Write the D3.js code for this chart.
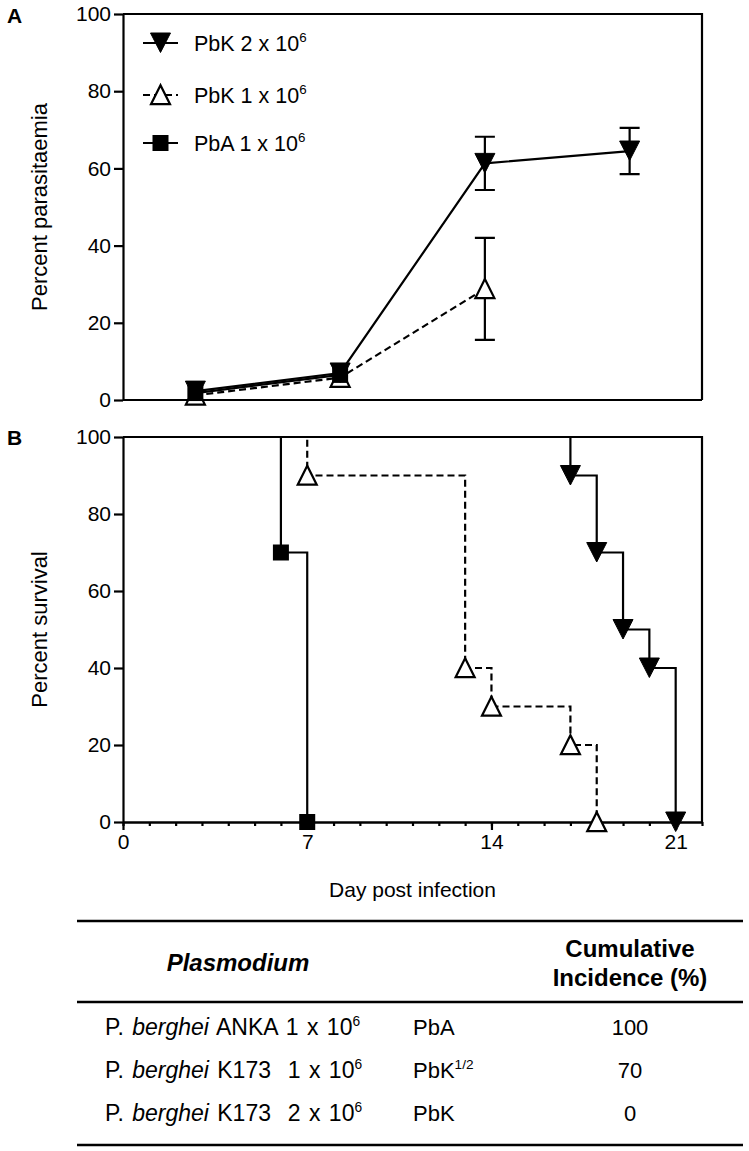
<!DOCTYPE html>
<html><head><meta charset="utf-8">
<script src="https://cdn.jsdelivr.net/npm/d3@7"></script>
<style>
html,body{margin:0;padding:0;background:#fff;}
svg text{font-family:"Liberation Sans",Arial,Helvetica,sans-serif;fill:#000;white-space:pre;}
</style></head><body>
<svg id="chart" width="749" height="1151"></svg>
<script>
// ---------- data ----------
const legendLabels = ["PbK 2 x 10", "PbK 1 x 10", "PbA 1 x 10"];
const legendExp = ["6", "6", "6"];

const parasitaemiaDays = [2.75, 8.25, 13.75, 19.25];
const pbk2Parasitaemia = [2.3, 7.0, 61.3, 64.5];
const pbk2Sem = [0, 0, 6.9, 6.0];
const pbk1Parasitaemia = [1.2, 5.8, 28.8];
const pbk1Sem = [0, 0, 13.2];
const pbaParasitaemia = [1.8, 6.5];
const pbaSem = [0, 0];

const pbk2SurvDays = [0, 17, 18, 19, 20, 21];
const pbk2Surv = [100, 90, 70, 50, 40, 0];
const pbk1SurvDays = [0, 7, 13, 14, 17, 18];
const pbk1Surv = [100, 90, 40, 30, 20, 0];
const pbaSurvDays = [0, 6, 7];
const pbaSurv = [100, 70, 0];

const yTicks = [0, 20, 40, 60, 80, 100];
const xMajorTicks = [0, 7, 14, 21];
const xMinorTicks = d3.range(0, 23);

const tableHeaders = ["Plasmodium", "Cumulative", "Incidence (%)"];
const tableStrain = ["ANKA 1 x 10", "K173  1 x 10", "K173  2 x 10"];
const tableStrainExp = ["6", "6", "6"];
const tableCode = ["PbA", "PbK", "PbK"];
const tableCodeSup = ["", "1/2", ""];
const tableIncidence = [100, 70, 0];

// ---------- layout ----------
const svg = d3.select("#chart");
const L = 123, R = 702;
const LW = 2.2;
const FS = 21;
const x = d3.scaleLinear().domain([0, 22]).range([L, R]);
const yA = d3.scaleLinear().domain([0, 100]).range([400, 14]);
const yB = d3.scaleLinear().domain([0, 100]).range([822, 437]);

function styleAxis(g) {
  g.select(".domain").attr("stroke", "#000").attr("stroke-width", LW);
  g.selectAll(".tick line").attr("stroke", "#000").attr("stroke-width", LW);
  g.selectAll(".tick text").style("font-size", FS + "px").attr("fill", "#000");
}

function marker(g, type, cx, cy) {
  if (type === "down") {
    g.append("path").attr("d", `M${cx-10},${cy-10}L${cx+10},${cy-10}L${cx},${cy+9.5}Z`)
      .attr("fill", "#000").attr("stroke", "#000").attr("stroke-width", 1);
  } else if (type === "up") {
    g.append("path").attr("d", `M${cx-9.5},${cy+9.2}L${cx+9.5},${cy+9.2}L${cx},${cy-9.8}Z`)
      .attr("fill", "#fff").attr("stroke", "#000").attr("stroke-width", LW).attr("stroke-linejoin", "miter");
  } else {
    g.append("rect").attr("x", cx - 8).attr("y", cy - 8).attr("width", 16).attr("height", 16)
      .attr("fill", "#000");
  }
}

function supText(g, xx, yy, base, sup, size, anchor) {
  const t = g.append("text").attr("x", xx).attr("y", yy).style("font-size", size + "px")
    .attr("text-anchor", anchor || "start");
  t.append("tspan").text(base);
  if (sup) t.append("tspan").attr("dy", -size * 0.4).style("font-size", (size * 0.62) + "px").text(sup);
  return t;
}

// ---------- Panel A ----------
const gA = svg.append("g");
gA.append("path").attr("d", `M${L},${yA(100)}H${R}V${yA(0)}`).attr("fill", "none")
  .attr("stroke", "#000").attr("stroke-width", LW);
gA.append("line").attr("x1", L).attr("x2", R).attr("y1", yA(0)).attr("y2", yA(0))
  .attr("stroke", "#000").attr("stroke-width", LW);
gA.append("g").attr("transform", `translate(${L},0)`)
  .call(d3.axisLeft(yA).tickValues(yTicks).tickSize(9).tickSizeOuter(0).tickPadding(3))
  .call(styleAxis);

const seriesA = [
  {vals: pbk1Parasitaemia, sem: pbk1Sem, type: "up", dash: "7,4"},
  {vals: pbk2Parasitaemia, sem: pbk2Sem, type: "down", dash: null},
  {vals: pbaParasitaemia, sem: pbaSem, type: "sq", dash: null}
];
const lineA = d3.line().x(d => x(d[0])).y(d => yA(d[1]));
seriesA.forEach(s => {
  const pts = s.vals.map((v, i) => [parasitaemiaDays[i], v]);
  gA.append("path").attr("d", lineA(pts)).attr("fill", "none").attr("stroke", "#000")
    .attr("stroke-width", LW).attr("stroke-dasharray", s.dash);
  pts.forEach((p, i) => {
    const e = s.sem[i];
    if (e > 0) {
      const cx = x(p[0]);
      const y1 = yA(p[1] + e), y2 = yA(p[1] - e);
      gA.append("path").attr("d", `M${cx},${y1}V${y2}M${cx-10},${y1}H${cx+10}M${cx-10},${y2}H${cx+10}`)
        .attr("stroke", "#000").attr("stroke-width", LW).attr("fill", "none");
    }
  });
});
seriesA.forEach(s => {
  s.vals.forEach((v, i) => marker(gA, s.type, x(parasitaemiaDays[i]), yA(v)));
});

// legend
const legTypes = ["down", "up", "sq"];
const legDash = [null, "7,4", null];
const legY = [43, 95, 143];
legendLabels.forEach((lab, i) => {
  gA.append("line").attr("x1", 143).attr("x2", 178).attr("y1", legY[i]).attr("y2", legY[i])
    .attr("stroke", "#000").attr("stroke-width", LW).attr("stroke-dasharray", legDash[i]);
  marker(gA, legTypes[i], 160.5, legY[i]);
  supText(gA, 194, legY[i] + 7.5, lab, legendExp[i], 21.5);
});

gA.append("text").attr("transform", `translate(47,${(yA(0) + yA(100)) / 2}) rotate(-90)`)
  .attr("text-anchor", "middle").style("font-size", "22px").text("Percent parasitaemia");
gA.append("text").attr("x", 7).attr("y", 23).style("font-size", "21px").style("font-weight", "bold").text("A");

// ---------- Panel B ----------
const gB = svg.append("g");
gB.append("path").attr("d", `M${L},${yB(100)}H${R}V${yB(0)}`).attr("fill", "none")
  .attr("stroke", "#000").attr("stroke-width", LW);
gB.append("g").attr("transform", `translate(${L},0)`)
  .call(d3.axisLeft(yB).tickValues(yTicks).tickSize(9).tickSizeOuter(0).tickPadding(3))
  .call(styleAxis);
gB.append("g").attr("transform", `translate(0,${yB(0)})`)
  .call(d3.axisBottom(x).tickValues(xMinorTicks).tickSize(4).tickSizeOuter(0).tickFormat(""))
  .call(styleAxis);
gB.append("g").attr("transform", `translate(0,${yB(0)})`)
  .call(d3.axisBottom(x).tickValues(xMajorTicks).tickSize(8).tickSizeOuter(0).tickPadding(4))
  .call(styleAxis);

const seriesB = [
  {days: pbk1SurvDays, vals: pbk1Surv, type: "up", dash: "7,4"},
  {days: pbk2SurvDays, vals: pbk2Surv, type: "down", dash: null},
  {days: pbaSurvDays, vals: pbaSurv, type: "sq", dash: null}
];
const lineB = d3.line().curve(d3.curveStepAfter).x(d => x(d[0])).y(d => yB(d[1]));
seriesB.forEach(s => {
  const pts = s.days.map((d, i) => [d, s.vals[i]]);
  gB.append("path").attr("d", lineB(pts)).attr("fill", "none").attr("stroke", "#000")
    .attr("stroke-width", LW).attr("stroke-dasharray", s.dash);
});
seriesB.forEach(s => {
  s.days.forEach((d, i) => { if (i > 0) marker(gB, s.type, x(d), yB(s.vals[i])); });
});

gB.append("text").attr("transform", `translate(47,${(yB(0) + yB(100)) / 2}) rotate(-90)`)
  .attr("text-anchor", "middle").style("font-size", "22px").text("Percent survival");
gB.append("text").attr("x", 7).attr("y", 445).style("font-size", "21px").style("font-weight", "bold").text("B");
gB.append("text").attr("x", (L + R) / 2).attr("y", 897).attr("text-anchor", "middle")
  .style("font-size", "21px").text("Day post infection");

// ---------- Table ----------
const gT = svg.append("g");
[921, 1002, 1145].forEach(yy => {
  gT.append("line").attr("x1", 77).attr("x2", 743).attr("y1", yy).attr("y2", yy)
    .attr("stroke", "#000").attr("stroke-width", 2.5);
});
gT.append("text").attr("x", 238).attr("y", 971).attr("text-anchor", "middle")
  .style("font-size", "24px").style("font-weight", "bold").style("font-style", "italic").text(tableHeaders[0]);
gT.append("text").attr("x", 630).attr("y", 957).attr("text-anchor", "middle")
  .style("font-size", "24px").style("font-weight", "bold").text(tableHeaders[1]);
gT.append("text").attr("x", 630).attr("y", 986).attr("text-anchor", "middle")
  .style("font-size", "24px").style("font-weight", "bold").text(tableHeaders[2]);

const rowY = [1027, 1070, 1113];
const TFS = 22;
const C1FS = 23;
tableStrain.forEach((s, i) => {
  const t = gT.append("text").attr("x", 105).attr("y", rowY[i] + 8).style("font-size", C1FS + "px")
    .style("word-spacing", "2px");
  t.append("tspan").text("P. ");
  t.append("tspan").style("font-style", "italic").text("berghei");
  t.append("tspan").text(" " + s);
  t.append("tspan").attr("dy", -C1FS * 0.4).style("font-size", (C1FS * 0.6) + "px").text(tableStrainExp[i]);
  supText(gT, 413, rowY[i] + 8, tableCode[i], tableCodeSup[i], TFS);
  gT.append("text").attr("x", 630).attr("y", rowY[i] + 8).attr("text-anchor", "middle")
    .style("font-size", TFS + "px").text(tableIncidence[i]);
});
</script>
</body></html>
